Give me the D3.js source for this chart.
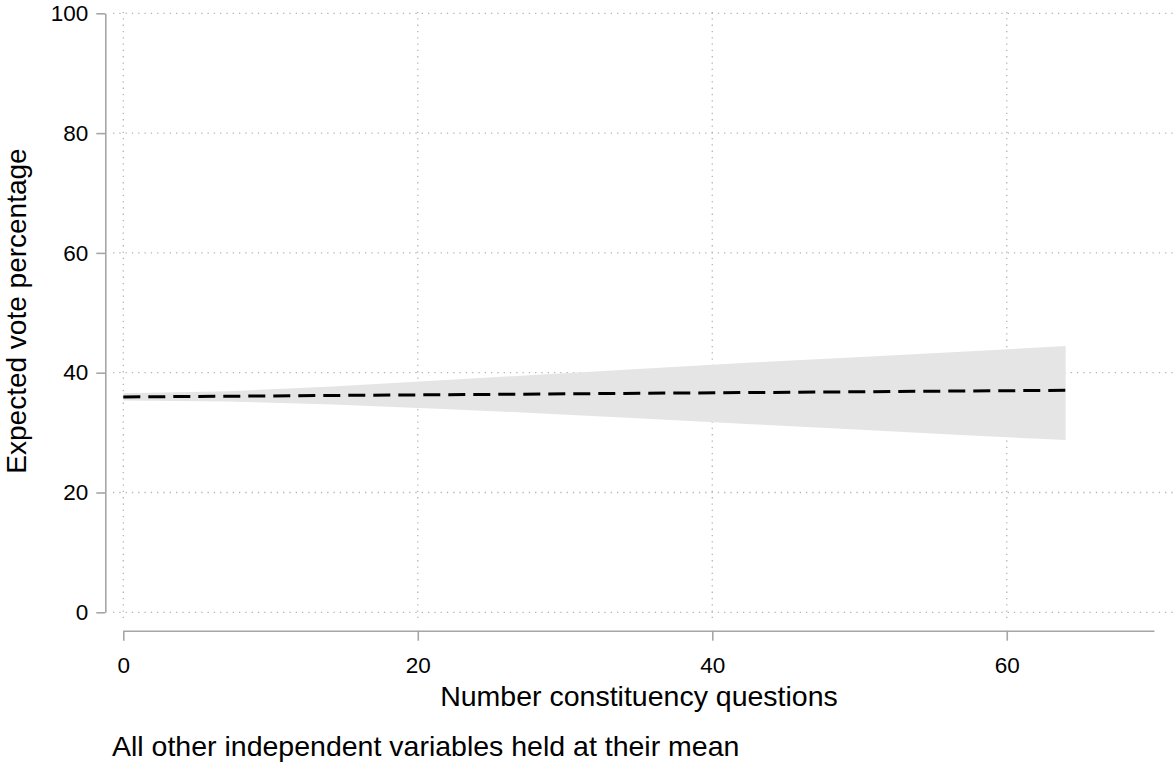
<!DOCTYPE html>
<html>
<head>
<meta charset="utf-8">
<script src="https://cdn.jsdelivr.net/npm/d3@7"></script>
<style>
  html, body { margin: 0; padding: 0; background: #fff; }
  svg { display: block; font-family: "Liberation Sans", Arial, sans-serif; }
</style>
</head>
<body>
<svg id="chart" width="1175" height="762"></svg>
<script>
// Data
const questions = [0, 7.11, 14.22, 21.33, 28.44, 35.56, 42.67, 49.78, 56.89, 64];
const expectedVote = [35.95, 36.07, 36.2, 36.32, 36.44, 36.57, 36.69, 36.81, 36.94, 37.06];
const lowerCI = [35.35, 35.2, 34.7, 34.0, 33.2, 32.3, 31.4, 30.5, 29.6, 28.75];
const upperCI = [36.55, 36.9, 37.7, 38.7, 39.7, 40.7, 41.7, 42.6, 43.5, 44.45];
const xTicks = [0, 20, 40, 60];
const yTicks = [0, 20, 40, 60, 80, 100];
const xTitle = "Number constituency questions";
const yTitle = "Expected vote percentage";
const note = "All other independent variables held at their mean";

const svg = d3.select("#chart");
const x = d3.scaleLinear().domain([0, 70]).range([123.3, 1154]);
const y = d3.scaleLinear().domain([0, 100]).range([612.3, 13.3]);

const axisColor = "#a6a6a6";
const gridColor = "#b4b4b4";

// Gridlines
svg.append("g").selectAll("line").data(yTicks).join("line")
  .attr("x1", 113).attr("x2", 1173)
  .attr("y1", d => y(d)).attr("y2", d => y(d))
  .attr("stroke", gridColor).attr("stroke-width", 1.3)
  .attr("stroke-dasharray", "1.3,5");
svg.append("g").selectAll("line").data(xTicks).join("line")
  .attr("x1", d => x(d)).attr("x2", d => x(d))
  .attr("y1", 12).attr("y2", 619)
  .attr("stroke", gridColor).attr("stroke-width", 1.3)
  .attr("stroke-dasharray", "1.3,5");

const pts = questions.map((q, i) => ({q, m: expectedVote[i], lo: lowerCI[i], hi: upperCI[i]}));

// Confidence band
svg.append("path").datum(pts)
  .attr("fill", "#e5e5e5")
  .attr("d", d3.area().x(d => x(d.q)).y0(d => y(d.lo)).y1(d => y(d.hi)));

// Predicted line (dashed)
svg.append("path").datum(pts)
  .attr("fill", "none").attr("stroke", "#000").attr("stroke-width", 3)
  .attr("stroke-dasharray", "17,8")
  .attr("d", d3.line().x(d => x(d.q)).y(d => y(d.m)));

// Y axis
const yAxis = svg.append("g").attr("transform", "translate(105.3,0)")
  .call(d3.axisLeft(y).tickValues(yTicks).tickSize(9).tickPadding(8).tickSizeOuter(0));
yAxis.select(".domain").attr("stroke", axisColor).attr("stroke-width", 1.6);
yAxis.selectAll(".tick line").attr("stroke", axisColor).attr("stroke-width", 1.6);
yAxis.selectAll(".tick text").attr("font-size", 22.5).attr("fill", "#000")
  .attr("font-family", "Liberation Sans, Arial, sans-serif");

// X axis
const xAxis = svg.append("g").attr("transform", "translate(0,630.7)")
  .call(d3.axisBottom(x).tickValues(xTicks).tickSize(10).tickPadding(16).tickSizeOuter(0));
xAxis.select(".domain").attr("stroke", axisColor).attr("stroke-width", 1.6);
xAxis.selectAll(".tick line").attr("stroke", axisColor).attr("stroke-width", 1.6);
xAxis.selectAll(".tick text").attr("font-size", 22.5).attr("fill", "#000")
  .attr("font-family", "Liberation Sans, Arial, sans-serif");

// Titles
svg.append("text")
  .attr("x", 639).attr("y", 706)
  .attr("text-anchor", "middle").attr("font-size", 28.5).attr("fill", "#000")
  .text(xTitle);
svg.append("text")
  .attr("transform", "translate(26,311) rotate(-90)")
  .attr("text-anchor", "middle").attr("font-size", 28).attr("fill", "#000")
  .text(yTitle);
svg.append("text")
  .attr("x", 112).attr("y", 756)
  .attr("text-anchor", "start").attr("font-size", 28.5).attr("fill", "#000")
  .text(note);
</script>
</body>
</html>
